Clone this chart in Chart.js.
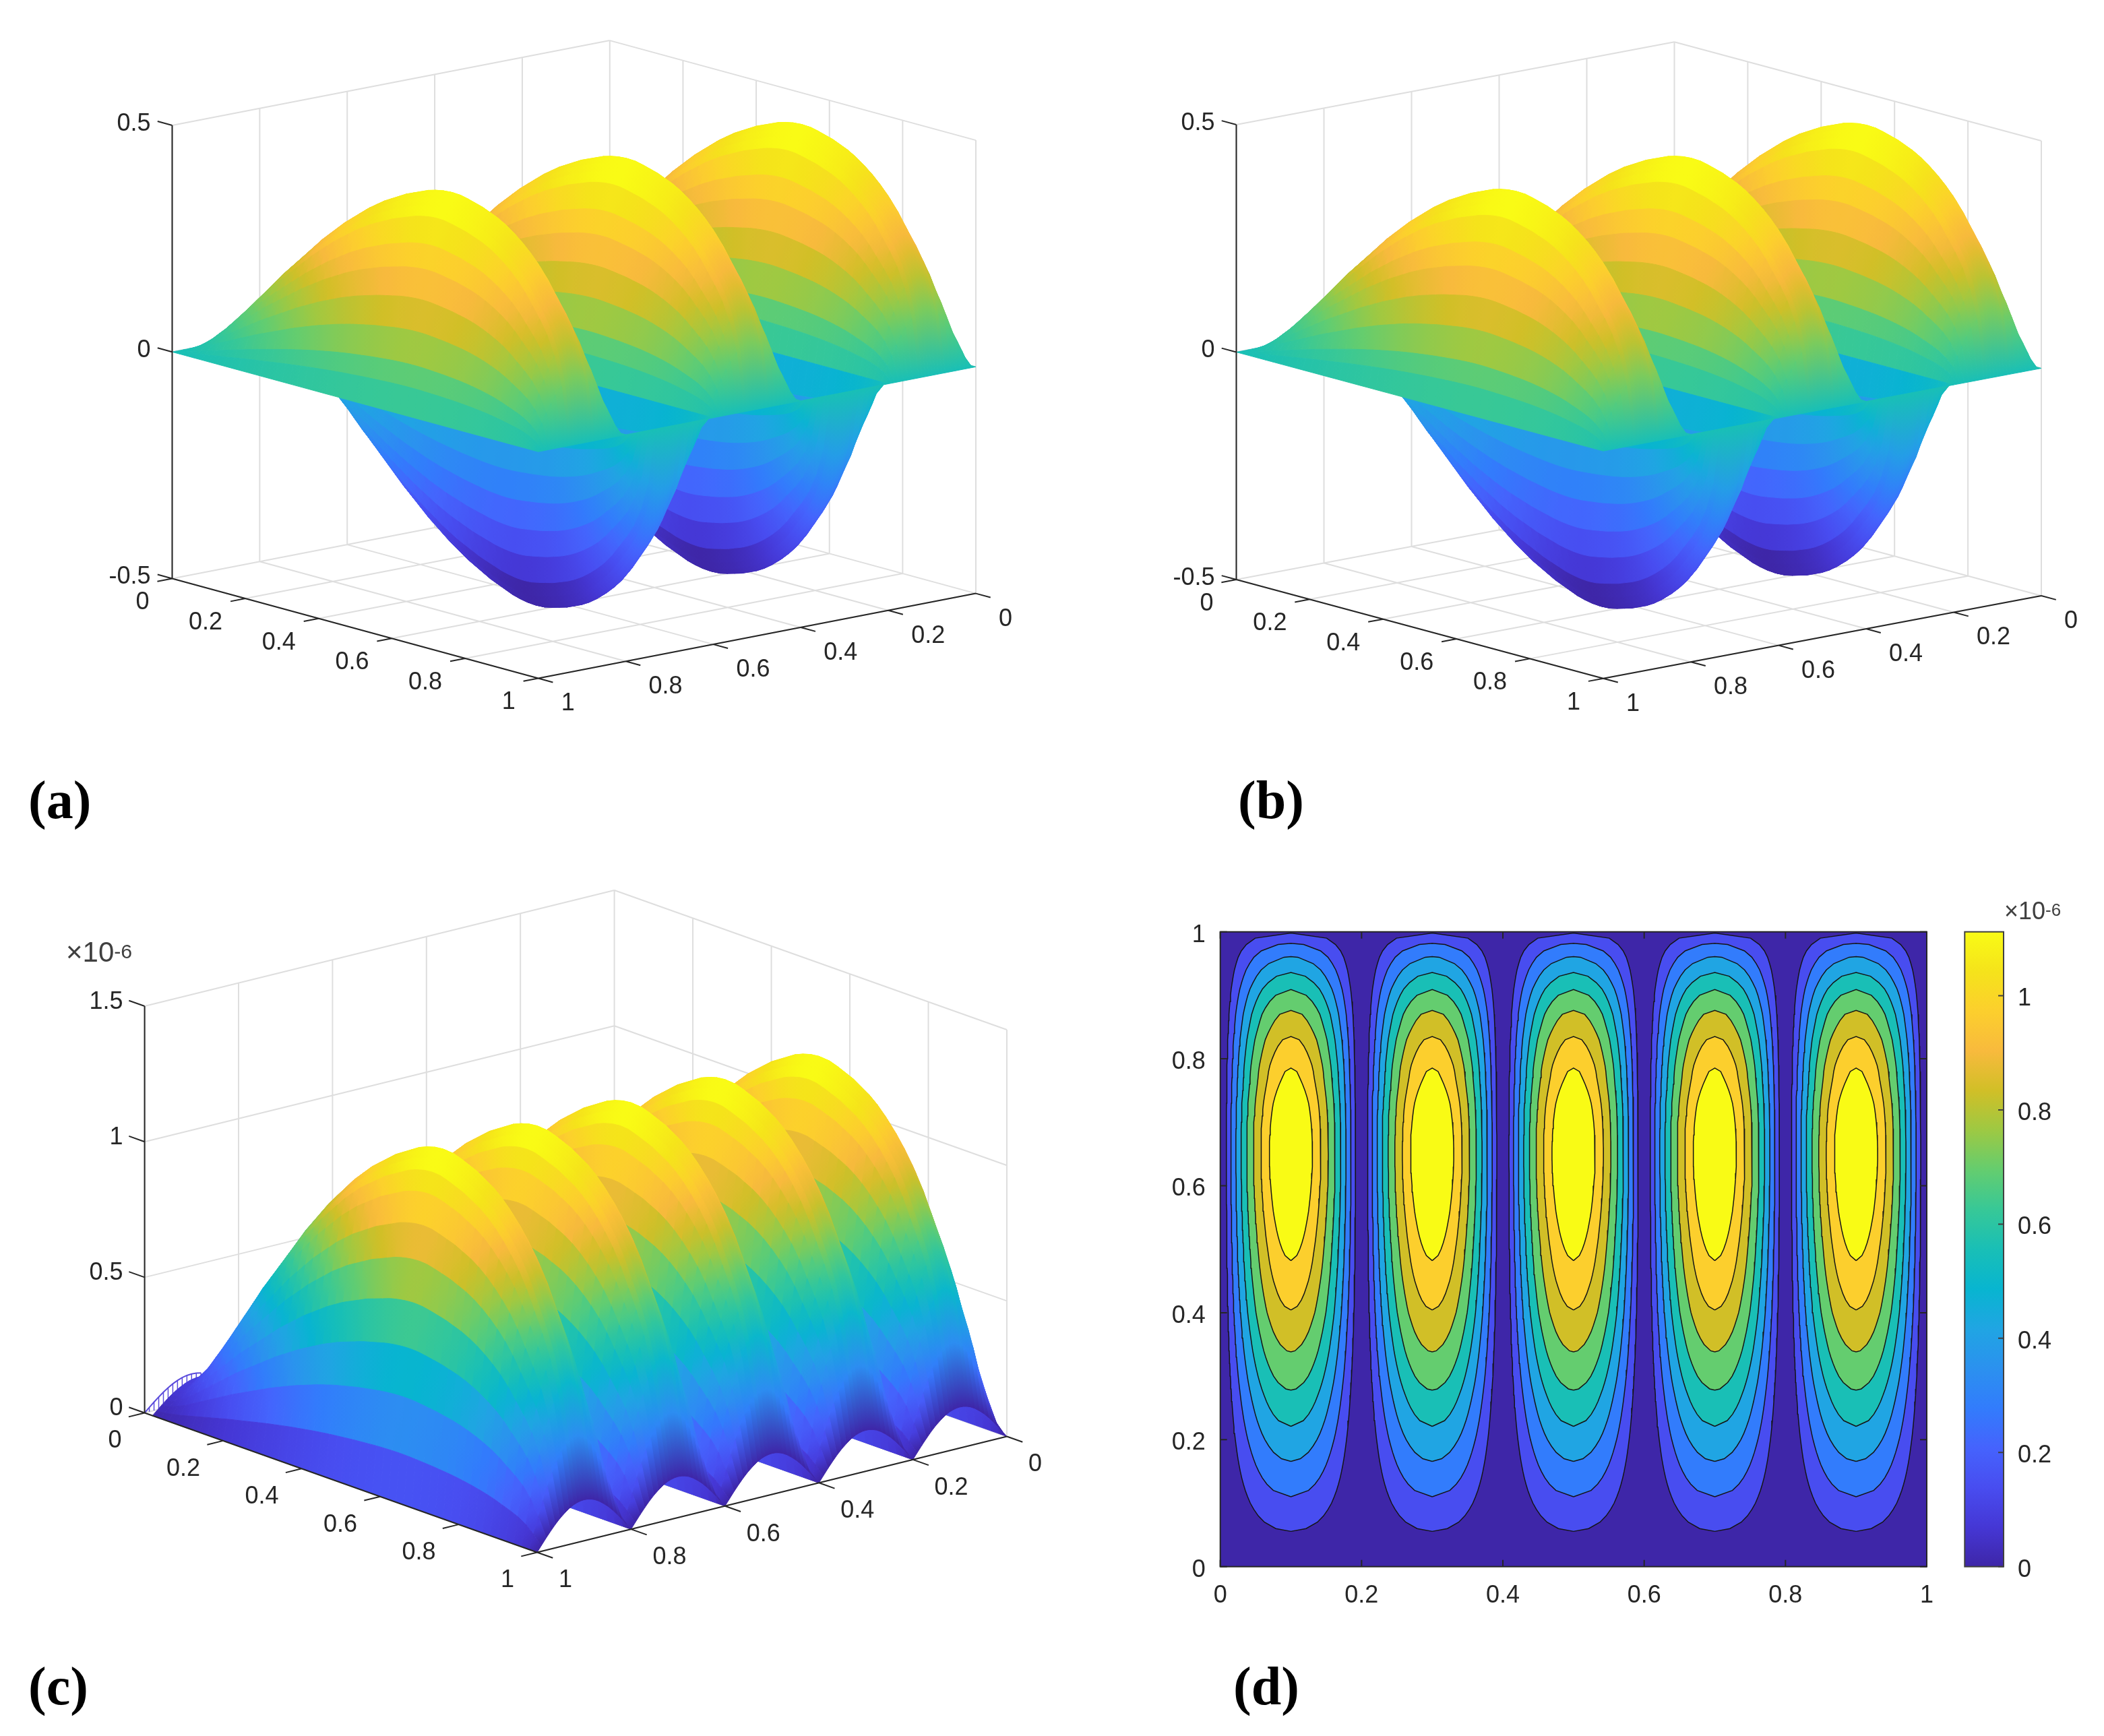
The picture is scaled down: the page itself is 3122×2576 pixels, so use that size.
<!DOCTYPE html>
<html>
<head>
<meta charset="utf-8">
<script src="https://cdn.jsdelivr.net/npm/chart.js@4/dist/chart.umd.min.js"></script>
<style>
html, body { margin: 0; padding: 0; background: #fff; }
body { position: relative; width: 3122px; height: 2576px; overflow: hidden; }
canvas { position: absolute; display: block; }
.tag { position: absolute; font: bold 80px "Liberation Serif", serif; color: #000; line-height: 1; }
.exp { position: absolute; font-family: "Liberation Sans", sans-serif; color: #404040; line-height: 1; }
.exp sup { font-size: 0.72em; position: relative; top: -5px; vertical-align: baseline; }
</style>
</head>
<body>
<canvas id="panelA"></canvas>
<canvas id="panelB"></canvas>
<canvas id="panelC"></canvas>
<canvas id="panelD"></canvas>
<canvas id="colorBar"></canvas>
<div class="tag" style="left:42px;top:1147px">(a)</div>
<div class="tag" style="left:1837px;top:1147px">(b)</div>
<div class="tag" style="left:42px;top:2462px">(c)</div>
<div class="tag" style="left:1830px;top:2462px">(d)</div>
<div class="exp" style="left:98px;top:1392px;font-size:42px">×10<sup>-6</sup></div>
<div class="exp" style="left:2974px;top:1334px;font-size:36px">×10<sup>-6</sup></div>
<script>
// tick values and labels
const unitTicks = [0, 0.2, 0.4, 0.6, 0.8, 1];
const unitLabels = ['0', '0.2', '0.4', '0.6', '0.8', '1'];
const zTicksAB = [-0.5, 0, 0.5];
const zLabelsAB = ['-0.5', '0', '0.5'];
const zTicksC = [0, 0.5, 1, 1.5];
const zLabelsC = ['0', '0.5', '1', '1.5'];
const barTicks = [0, 0.2, 0.4, 0.6, 0.8, 1];

// one half wave along the right axis: column position, share of the peak at the column,
// and the share that colours the band starting there
const bumpEdges = [0, 0.0082, 0.0148, 0.0248, 0.0351, 0.046, 0.056, 0.0699, 0.0775, 0.085, 0.0925, 0.1,
  0.1075, 0.115, 0.1225, 0.1301, 0.144, 0.154, 0.1649, 0.1752, 0.1852, 0.1918, 0.2];
const bumpLevels = [0, 0.128, 0.23, 0.38, 0.525, 0.66, 0.77, 0.89, 0.938, 0.972, 0.993, 1,
  0.993, 0.972, 0.938, 0.89, 0.77, 0.66, 0.525, 0.38, 0.23, 0.128, 0];
const bumpShades = [0.128, 0.23, 0.38, 0.525, 0.66, 0.77, 0.89, 1, 1, 1, 1,
  1, 1, 1, 1, 0.89, 0.77, 0.66, 0.525, 0.38, 0.23, 0.128, 0];

const valleyEdges = [0, 0.0109, 0.0214, 0.0312, 0.0417, 0.053, 0.0676, 0.0775, 0.085, 0.0925, 0.1,
  0.1075, 0.115, 0.1225, 0.1324, 0.147, 0.1583, 0.1688, 0.1786, 0.1891, 0.2];
const valleyLevels = [0, 0.17, 0.33, 0.47, 0.61, 0.74, 0.87, 0.938, 0.972, 0.993, 1,
  0.993, 0.972, 0.938, 0.87, 0.74, 0.61, 0.47, 0.33, 0.17, 0];
const valleyShades = [0.17, 0.33, 0.47, 0.61, 0.74, 0.87, 1, 1, 1, 1,
  1, 1, 1, 1, 0.87, 0.74, 0.61, 0.47, 0.33, 0.17, 0];

const archEdges = [0, 0.009, 0.0194, 0.0291, 0.0386, 0.0485, 0.0584, 0.0686, 0.0776, 0.085, 0.0925, 0.1,
  0.1075, 0.115, 0.1224, 0.1314, 0.1416, 0.1515, 0.1614, 0.1709, 0.1806, 0.191, 0.2];
const archLevels = [0, 0.14, 0.3, 0.44, 0.57, 0.69, 0.79, 0.88, 0.94, 0.972, 0.993, 1,
  0.993, 0.972, 0.94, 0.88, 0.79, 0.69, 0.57, 0.44, 0.3, 0.14, 0];
const archShades = [0.14, 0.3, 0.44, 0.57, 0.69, 0.79, 0.88, 0.94, 1, 1, 1,
  1, 1, 1, 0.94, 0.88, 0.79, 0.69, 0.57, 0.44, 0.3, 0.14, 0];

// panels (a)/(b): peak height, then profile along the left axis (0 to 1 in steps of 0.02)
const peakAB = 0.475;
const spanAB = [0, 0.03, 0.07, 0.115, 0.16, 0.205, 0.25, 0.295, 0.34, 0.385, 0.43, 0.47, 0.51,
  0.55, 0.59, 0.63, 0.665, 0.7, 0.735, 0.765, 0.795, 0.825, 0.85, 0.875, 0.895, 0.915,
  0.935, 0.95, 0.965, 0.98, 0.99, 0.997, 1, 0.998, 0.99, 0.98, 0.97, 0.955, 0.94,
  0.92, 0.895, 0.865, 0.83, 0.79, 0.74, 0.68, 0.62, 0.55, 0.45, 0.3, 0];

// panel (c), in units of 1e-6
const peakC = 1.26;
const spanC = [0.08, 0.08, 0.09, 0.125, 0.16, 0.205, 0.25, 0.295, 0.34, 0.385, 0.43, 0.47, 0.51,
  0.55, 0.59, 0.63, 0.665, 0.7, 0.735, 0.765, 0.795, 0.825, 0.85, 0.875, 0.895, 0.915,
  0.935, 0.95, 0.965, 0.98, 0.99, 0.997, 1, 0.998, 0.99, 0.98, 0.97, 0.955, 0.94,
  0.92, 0.895, 0.865, 0.83, 0.79, 0.74, 0.68, 0.62, 0.55, 0.45, 0.3, 0.12];
// hatched arch on the far edge of (c), near the left corner
const hatchAt = [1, 0.99, 0.98, 0.97, 0.96, 0.95, 0.94, 0.93, 0.92, 0.91, 0.9, 0.89, 0.88];
const hatchLevels = [0, 0.156, 0.309, 0.454, 0.588, 0.707, 0.809, 0.891, 0.951, 0.988, 1, 0.988, 0.951];

// panel (d): contour levels as a share of the peak, lobe centres,
// vertical profile (y = 0 to 1 in steps of 0.01) and one lobe's profile (offset 0 to 0.1 in steps of 0.005)
const contourLevels = [0.133, 0.233, 0.339, 0.446, 0.556, 0.673, 0.786, 0.887];
const lobeCentres = [0.1, 0.3, 0.5, 0.7, 0.9];
const spanD = [0.031, 0.05, 0.068, 0.087, 0.105, 0.123, 0.141, 0.16, 0.178, 0.196, 0.215,
  0.233, 0.252, 0.271, 0.29, 0.309, 0.328, 0.347, 0.366, 0.385, 0.405,
  0.425, 0.444, 0.464, 0.483, 0.502, 0.521, 0.54, 0.56, 0.58, 0.6,
  0.619, 0.638, 0.657, 0.676, 0.693, 0.71, 0.728, 0.745, 0.762, 0.78,
  0.794, 0.808, 0.822, 0.835, 0.849, 0.862, 0.874, 0.885, 0.895, 0.905,
  0.915, 0.925, 0.934, 0.943, 0.952, 0.96, 0.967, 0.974, 0.98, 0.985,
  0.99, 0.994, 0.997, 0.999, 1, 0.999, 0.997, 0.994, 0.99, 0.985,
  0.978, 0.97, 0.96, 0.947, 0.932, 0.918, 0.905, 0.895, 0.88, 0.86,
  0.84, 0.82, 0.8, 0.772, 0.745, 0.72, 0.695, 0.66, 0.625, 0.59,
  0.553, 0.51, 0.47, 0.43, 0.385, 0.343, 0.295, 0.243, 0.19, 0.12];
const lobeD = [1, 0.997, 0.988, 0.972, 0.951, 0.924, 0.891, 0.853, 0.809, 0.76, 0.707,
  0.649, 0.588, 0.522, 0.454, 0.383, 0.309, 0.233, 0.156, 0.078, 0];
const barMax = 1.112;

const textColor = '#262626';
const gridColor = '#dedede';
const tickFont = '36px "Liberation Sans", sans-serif';

// parula
const parulaStops = [
  [0.2422, 0.1504, 0.6603], [0.2706, 0.2147, 0.8364], [0.2813, 0.3006, 0.9414], [0.2699, 0.3892, 0.9906],
  [0.1963, 0.4847, 0.9892], [0.1687, 0.5703, 0.9359], [0.1248, 0.6459, 0.8883], [0.0297, 0.7082, 0.8163],
  [0.0964, 0.75, 0.712], [0.2161, 0.7843, 0.5923], [0.3909, 0.8029, 0.4354], [0.6174, 0.7876, 0.2612],
  [0.8203, 0.7498, 0.1535], [0.9728, 0.7298, 0.2394], [0.9892, 0.8134, 0.1753], [0.961, 0.8905, 0.104],
  [0.9769, 0.9839, 0.0805]];

function parula(t) {
  const f = Math.min(Math.max(t, 0), 1) * (parulaStops.length - 1);
  const i = Math.min(Math.floor(f), parulaStops.length - 2);
  const a = parulaStops[i], b = parulaStops[i + 1], k = f - i;
  const c = [0, 1, 2].map(n => Math.round(255 * (a[n] + (b[n] - a[n]) * k)));
  return `rgb(${c[0]},${c[1]},${c[2]})`;
}

// surface: faces are painted back to front from the points the scales have placed
class SurfaceController extends Chart.ScatterController {
  draw() {
    const ctx = this.chart.ctx;
    const ds = this.getDataset();
    const pts = this._cachedMeta.data;
    const cols = ds.columns;
    const rows = pts.length / cols;
    ctx.save();
    ctx.lineWidth = 1;
    ctx.lineJoin = 'round';
    for (let i = ds.skipRows || 0; i < rows - 1; i++) {
      for (let j = 0; j < cols - 1; j++) {
        const a = pts[i * cols + j], b = pts[i * cols + j + 1];
        const c = pts[(i + 1) * cols + j + 1], d = pts[(i + 1) * cols + j];
        const g = ctx.createLinearGradient((a.x + b.x) / 2, (a.y + b.y) / 2, (c.x + d.x) / 2, (c.y + d.y) / 2);
        g.addColorStop(0, ds.faceColors[i * cols + j]);
        g.addColorStop(1, ds.faceColors[(i + 1) * cols + j]);
        ctx.beginPath();
        ctx.moveTo(a.x, a.y);
        ctx.lineTo(b.x, b.y);
        ctx.lineTo(c.x, c.y);
        ctx.lineTo(d.x, d.y);
        ctx.closePath();
        ctx.fillStyle = ctx.strokeStyle = g;
        ctx.fill();
        ctx.stroke();
      }
    }
    ctx.restore();
  }
}
SurfaceController.id = 'surface';
SurfaceController.defaults = Chart.ScatterController.defaults;
Chart.register(SurfaceController);

function project(p, u, w, z) {
  return {
    x: p.left[0] + u * (p.front[0] - p.left[0]) + (1 - w) * (p.right[0] - p.front[0]),
    y: p.left[1] + u * (p.front[1] - p.left[1]) + (1 - w) * (p.right[1] - p.front[1]) - (z - p.zMin) * p.zScale
  };
}

const GAP = { x: NaN, y: NaN };

function lineData(p, segments) {
  const out = [];
  segments.forEach(s => {
    out.push(project(p, s[0], s[1], s[2]), project(p, s[3], s[4], s[5]), GAP);
  });
  return out;
}

function gridSegments(p, zTicks) {
  const zLo = p.zMin, zHi = p.zMax;
  const segs = [];
  unitTicks.forEach(t => {
    segs.push([0, t, zLo, 0, t, zHi], [t, 0, zLo, t, 0, zHi]);
    segs.push([0, t, zLo, 1, t, zLo], [t, 0, zLo, t, 1, zLo]);
  });
  zTicks.forEach(z => {
    segs.push([0, 0, z, 0, 1, z], [0, 0, z, 1, 0, z]);
  });
  return segs;
}

function axisSegments(p, zTicks) {
  const zLo = p.zMin, zHi = p.zMax;
  const segs = [[0, 1, zLo, 0, 1, zHi], [0, 1, zLo, 1, 1, zLo], [1, 1, zLo, 1, 0, zLo]];
  unitTicks.forEach(t => {
    segs.push([t, 1, zLo, t, 1.034, zLo], [1, t, zLo, 1.04, t, zLo]);
  });
  zTicks.forEach(z => segs.push([0, 1, z, -0.04, 1, z]));
  return segs;
}

function labelPlugin(p) {
  return {
    id: 'axisLabels',
    afterDraw(chart) {
      const ctx = chart.ctx;
      const put = (pt, text, dx, dy, align) => {
        ctx.textAlign = align;
        ctx.fillText(text, chart.scales.x.getPixelForValue(pt.x) + dx, chart.scales.y.getPixelForValue(pt.y) + dy);
      };
      ctx.save();
      ctx.font = tickFont;
      ctx.fillStyle = textColor;
      ctx.textBaseline = 'middle';
      unitTicks.forEach((t, i) => {
        put(project(p, t, 1, p.zMin), unitLabels[i], p.uOff[0], p.uOff[1], 'right');
        put(project(p, 1, t, p.zMin), unitLabels[i], p.wOff[0], p.wOff[1], 'left');
      });
      p.zTicks.forEach((z, i) => put(project(p, 0, 1, z), p.zLabels[i], p.zOff[0], p.zOff[1], 'right'));
      ctx.restore();
    }
  };
}

function placeCanvas(id, box) {
  const el = document.getElementById(id);
  el.width = box[2];
  el.height = box[3];
  el.style.left = box[0] + 'px';
  el.style.top = box[1] + 'px';
  return el;
}

// five half waves side by side: [edges, levels, shades, sign]
const lobesAB = [
  [bumpEdges, bumpLevels, bumpShades, 1], [valleyEdges, valleyLevels, valleyShades, -1],
  [bumpEdges, bumpLevels, bumpShades, 1], [valleyEdges, valleyLevels, valleyShades, -1],
  [bumpEdges, bumpLevels, bumpShades, 1]];
const lobesC = [1, 2, 3, 4, 5].map(() => [archEdges, archLevels, archShades, 1]);

function surfaceColumns(lobes) {
  const cols = [];
  lobes.forEach((lobe, k) => {
    lobe[0].forEach((e, n) => {
      if (k > 0 && n === 0) return;
      if (k < lobes.length - 1 && n === lobe[0].length - 1) {
        cols.push({ w: k * 0.2 + e, v: 0, shade: lobes[k + 1][3] * lobes[k + 1][2][0] });
      } else {
        cols.push({ w: k * 0.2 + e, v: lobe[3] * lobe[1][n], shade: lobe[3] * lobe[2][n] });
      }
    });
  });
  return cols;
}

function drawSurfacePanel(id, box, p, span, lobes, peak, cLo, cHi, extra) {
  const columns = surfaceColumns(lobes);
  const pts = [], faces = [];
  span.forEach((s, i) => {
    // in (c) the near edge stands above the axis but is coloured as the lowest value
    const share = p.darkEdge && i === span.length - 1 ? 0 : s;
    columns.forEach(col => {
      pts.push(project(p, i / (span.length - 1), col.w, peak * s * col.v));
      faces.push(parula((peak * share * col.shade - cLo) / (cHi - cLo)));
    });
  });
  const line = (data, color, width, order) => ({
    type: 'scatter', data, showLine: true, spanGaps: false, pointRadius: 0,
    borderColor: color, borderWidth: width, order
  });
  const datasets = [
    line(lineData(p, gridSegments(p, p.zTicks)), gridColor, 2, 5),
    { type: 'surface', data: pts, columns: columns.length, faceColors: faces, pointRadius: 0, skipRows: p.skipRows || 0, order: 3 },
    line(lineData(p, axisSegments(p, p.zTicks)), textColor, 2, 1)
  ];
  if (extra) extra.forEach(e => datasets.push(e));
  new Chart(placeCanvas(id, box), {
    type: 'scatter',
    data: { datasets },
    options: {
      responsive: false,
      animation: false,
      events: [],
      layout: { padding: 0 },
      plugins: { legend: { display: false }, tooltip: { enabled: false } },
      scales: {
        x: { type: 'linear', display: false, min: box[0], max: box[0] + box[2] },
        y: { type: 'linear', display: false, reverse: true, min: box[1], max: box[1] + box[3] }
      }
    },
    plugins: [labelPlugin(p)]
  });
}

const panelA = {
  left: [255.5, 858.5], front: [798.7, 1006.5], right: [1448, 880.6],
  zMin: -0.5, zMax: 0.5, zScale: 672.5, zTicks: zTicksAB, zLabels: zLabelsAB,
  uOff: [-34, 36], wOff: [34, 38], zOff: [-32, -2]
};
const panelB = {
  left: [1834.5, 860], front: [2379, 1006.7], right: [3029, 884],
  zMin: -0.5, zMax: 0.5, zScale: 675, zTicks: zTicksAB, zLabels: zLabelsAB,
  uOff: [-34, 36], wOff: [34, 38], zOff: [-32, -2]
};
const panelC = {
  left: [214.6, 2096.5], front: [797, 2303.5], right: [1494, 2131.5],
  zMin: 0, zMax: 1.5, zScale: 402.3, zTicks: zTicksC, zLabels: zLabelsC,
  uOff: [-34, 42], wOff: [32, 42], zOff: [-32, -6], skipRows: 1, darkEdge: true
};

drawSurfacePanel('panelA', [0, 0, 1560, 1280], panelA, spanAB, lobesAB, peakAB, -peakAB, peakAB);
drawSurfacePanel('panelB', [1560, 0, 1562, 1280], panelB, spanAB, lobesAB, peakAB, -peakAB, peakAB);

const hatchLines = [], hatchArch = [];
hatchAt.forEach((w, k) => {
  const top = project(panelC, 0, w, peakC * spanC[0] * hatchLevels[k]);
  hatchLines.push(project(panelC, 0, w, 0), top, GAP);
  hatchArch.push(top);
});
const hatchStyle = { type: 'scatter', showLine: true, spanGaps: false, pointRadius: 0, borderColor: '#5a4bdc', order: 4 };
drawSurfacePanel('panelC', [0, 1280, 1560, 1296], panelC, spanC, lobesC, peakC, 0, peakC, [
  { ...hatchStyle, data: hatchLines, borderWidth: 1.5 },
  { ...hatchStyle, data: hatchArch, borderWidth: 2 }
]);

// panel (d)
function halfWidth(level) {
  // offset from the lobe centre at which lobeD falls to this share
  for (let k = 0; k < lobeD.length - 1; k++) {
    if (level >= lobeD[k + 1]) {
      return 0.005 * (k + (lobeD[k] - level) / (lobeD[k] - lobeD[k + 1]));
    }
  }
  return 0.1;
}

function contourOutline(level, centre) {
  const leftSide = [], rightSide = [];
  const add = (y, hw) => {
    leftSide.push({ x: centre - hw, y });
    rightSide.unshift({ x: centre + hw, y });
  };
  spanD.forEach((g, i) => {
    const y = i / (spanD.length - 1);
    if (g >= level) add(y, halfWidth(level / g));
    const next = spanD[i + 1];
    if (next !== undefined && (g - level) * (next - level) < 0) {
      add(y + 0.01 * (level - g) / (next - g), 0);
    }
  });
  const out = leftSide.concat(rightSide);
  out.push(out[0]);
  return out;
}

const contourDatasets = [{
  data: [{ x: 0, y: 0 }, { x: 1, y: 0 }, { x: 1, y: 1 }, { x: 0, y: 1 }, { x: 0, y: 0 }],
  showLine: true, pointRadius: 0, borderWidth: 0, fill: 'shape',
  backgroundColor: parula(0), order: 50
}];
contourLevels.forEach((level, k) => {
  lobeCentres.forEach(c => {
    contourDatasets.push({
      data: contourOutline(level, c),
      showLine: true, pointRadius: 0, borderColor: '#151515', borderWidth: 1.5,
      fill: 'shape', backgroundColor: parula((k + 1) / contourLevels.length), order: 40 - k
    });
  });
});

// the reference's y tick labels sit a few pixels under their ticks
const nudgeLabels = {
  id: 'nudgeLabels',
  beforeDraw(chart) {
    if (chart.$nudged) return;
    chart.$nudged = true;
    chart.scales.y.getLabelItems().forEach(item => { item.options.translation[1] += 5; });
  }
};

const insideTicks = {
  id: 'insideTicks',
  afterDraw(chart) {
    const ctx = chart.ctx, a = chart.chartArea;
    ctx.save();
    ctx.strokeStyle = textColor;
    ctx.lineWidth = 2;
    ctx.strokeRect(a.left, a.top, a.right - a.left, a.bottom - a.top);
    ctx.beginPath();
    unitTicks.forEach(t => {
      const px = chart.scales.x.getPixelForValue(t), py = chart.scales.y.getPixelForValue(t);
      ctx.moveTo(px, a.bottom); ctx.lineTo(px, a.bottom - 10);
      ctx.moveTo(px, a.top); ctx.lineTo(px, a.top + 10);
      ctx.moveTo(a.left, py); ctx.lineTo(a.left + 10, py);
      ctx.moveTo(a.right, py); ctx.lineTo(a.right - 10, py);
    });
    ctx.stroke();
    ctx.restore();
  }
};

const boxD = [1640, 1340, 1260, 1080];
new Chart(placeCanvas('panelD', boxD), {
  type: 'scatter',
  data: { datasets: contourDatasets },
  options: {
    responsive: false,
    animation: false,
    events: [],
    layout: { padding: { top: 42.7, right: 41 } },
    plugins: { legend: { display: false }, tooltip: { enabled: false } },
    scales: {
      x: {
        type: 'linear', min: 0, max: 1,
        afterFit(s) { s.height = 95.3; },
        afterBuildTicks(s) { s.ticks = unitTicks.map(value => ({ value })); },
        grid: { display: false },
        border: { display: false },
        ticks: {
          color: textColor, padding: 14, maxRotation: 0,
          font: { family: '"Liberation Sans", sans-serif', size: 36 },
          callback: v => unitLabels[unitTicks.indexOf(v)]
        }
      },
      y: {
        type: 'linear', min: 0, max: 1,
        afterFit(s) { s.width = 170.7; },
        afterBuildTicks(s) { s.ticks = unitTicks.map(value => ({ value })); },
        grid: { display: false },
        border: { display: false },
        ticks: {
          color: textColor, padding: 14,
          font: { family: '"Liberation Sans", sans-serif', size: 36 },
          callback: v => unitLabels[unitTicks.indexOf(v)]
        }
      }
    }
  },
  plugins: [insideTicks, nudgeLabels]
});

// colour bar
const barFrame = {
  id: 'barFrame',
  afterDraw(chart) {
    const ctx = chart.ctx, a = chart.chartArea;
    ctx.save();
    ctx.strokeStyle = '#404040';
    ctx.lineWidth = 2;
    ctx.strokeRect(a.left, a.top, a.right - a.left, a.bottom - a.top);
    ctx.beginPath();
    barTicks.forEach(t => {
      const py = chart.scales.y.getPixelForValue(t);
      ctx.moveTo(a.right, py);
      ctx.lineTo(a.right - 8, py);
    });
    ctx.stroke();
    ctx.restore();
  }
};

new Chart(placeCanvas('colorBar', [2880, 1340, 242, 1080]), {
  type: 'bar',
  data: {
    labels: ['bar'],
    datasets: [{
      data: [[0, barMax]],
      barPercentage: 1,
      categoryPercentage: 1,
      backgroundColor(context) {
        const a = context.chart.chartArea;
        if (!a) return parula(0);
        const g = context.chart.ctx.createLinearGradient(0, a.bottom, 0, a.top);
        parulaStops.forEach((s, i) => {
          const t = i / (parulaStops.length - 1);
          g.addColorStop(t, parula(t));
        });
        return g;
      }
    }]
  },
  options: {
    responsive: false,
    animation: false,
    events: [],
    layout: { padding: { top: 42.7, left: 35.3, bottom: 95.3 } },
    plugins: { legend: { display: false }, tooltip: { enabled: false } },
    scales: {
      x: { display: false },
      y: {
        position: 'right', min: 0, max: barMax,
        afterFit(s) { s.width = 149; },
        afterBuildTicks(s) { s.ticks = barTicks.map(value => ({ value })); },
        grid: { display: false },
        border: { display: false },
        ticks: {
          color: textColor, padding: 13,
          font: { family: '"Liberation Sans", sans-serif', size: 36 },
          callback: v => String(v)
        }
      }
    }
  },
  plugins: [barFrame, nudgeLabels]
});
</script>
</body>
</html>
